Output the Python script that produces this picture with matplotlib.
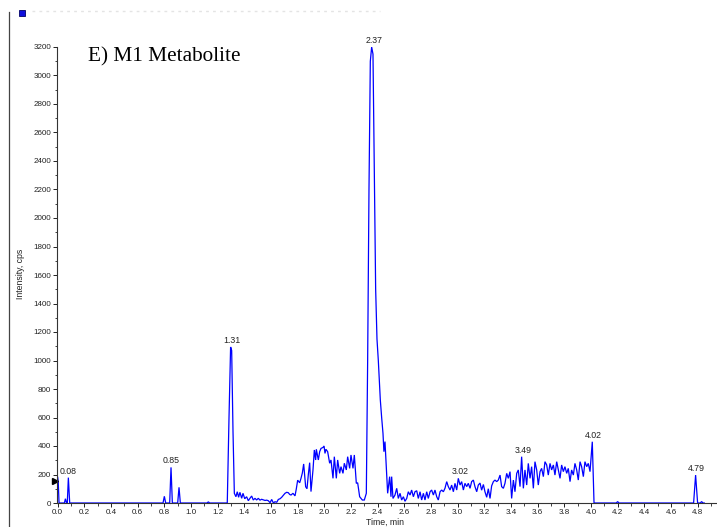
import matplotlib
matplotlib.use("Agg")
import matplotlib.pyplot as plt
from matplotlib.ticker import MultipleLocator
import numpy as np

# ---- data ----
time_min = [
    0.000, 0.004, 0.010, 0.050, 0.058, 0.066, 0.072, 0.080, 0.090,
    0.790, 0.800, 0.810, 0.840, 0.850, 0.860, 0.900, 0.910, 0.920,
    1.120, 1.130, 1.140, 1.272, 1.285, 1.297, 1.305, 1.315, 1.325,
    1.337, 1.347, 1.357, 1.367, 1.380, 1.390, 1.403, 1.417, 1.430, 1.442,
    1.455, 1.467, 1.480, 1.492, 1.505, 1.517, 1.530, 1.543, 1.555, 1.568,
    1.580, 1.593, 1.605, 1.618, 1.630, 1.643, 1.655, 1.668, 1.680, 1.693,
    1.705, 1.718, 1.730, 1.740, 1.750, 1.765, 1.780, 1.790, 1.800, 1.815,
    1.825, 1.835, 1.845, 1.860, 1.870, 1.880, 1.890, 1.900, 1.915, 1.925,
    1.935, 1.940, 1.955, 1.965, 1.975, 1.990, 1.998, 2.005, 2.012, 2.025,
    2.040, 2.050, 2.065, 2.075, 2.090, 2.100, 2.115, 2.125, 2.140, 2.150,
    2.165, 2.175, 2.190, 2.200, 2.215, 2.225, 2.240, 2.250, 2.265, 2.285,
    2.300, 2.315, 2.325, 2.335, 2.345, 2.355, 2.365, 2.375, 2.385, 2.395,
    2.405, 2.420, 2.430, 2.440, 2.447, 2.455, 2.462, 2.475, 2.490, 2.500,
    2.505, 2.515, 2.530, 2.543, 2.555, 2.568, 2.580, 2.593, 2.605, 2.618,
    2.630, 2.643, 2.655, 2.668, 2.680, 2.693, 2.705, 2.718, 2.730, 2.743,
    2.755, 2.768, 2.780, 2.793, 2.805, 2.818, 2.830, 2.843, 2.855, 2.868,
    2.880, 2.893, 2.905, 2.918, 2.930, 2.943, 2.955, 2.968, 2.980, 2.993,
    3.005, 3.018, 3.030, 3.043, 3.055, 3.068, 3.080, 3.093, 3.105, 3.118,
    3.130, 3.143, 3.155, 3.168, 3.180, 3.193, 3.205, 3.218, 3.230, 3.243,
    3.255, 3.268, 3.280, 3.293, 3.305, 3.318, 3.330, 3.343, 3.355, 3.368,
    3.380, 3.393, 3.405, 3.418, 3.430, 3.443, 3.455, 3.468, 3.480, 3.493,
    3.505, 3.518, 3.530, 3.543, 3.555, 3.568, 3.580, 3.593, 3.605, 3.618,
    3.630, 3.643, 3.655, 3.668, 3.680, 3.693, 3.705, 3.718, 3.730, 3.743,
    3.755, 3.768, 3.780, 3.793, 3.805, 3.818, 3.830, 3.843, 3.855, 3.868,
    3.880, 3.893, 3.905, 3.918, 3.930, 3.943, 3.955, 3.968, 3.980, 3.993,
    4.010, 4.023, 4.190, 4.200, 4.210, 4.770, 4.785, 4.800, 4.820, 4.830,
    4.840, 4.850,
]
intensity_cps = [
    180, 150, 0, 0, 30, 0, 0, 178, 0,
    0, 47, 0, 0, 250, 0, 0, 110, 0,
    0, 8, 0, 0, 600, 1095, 1070, 500, 68,
    44, 79, 40, 75, 33, 68, 30, 44, 16, 33,
    49, 21, 33, 21, 33, 20, 26, 22, 18, 20,
    16, 2, 25, 0, 9, 5, 25, 30, 40, 55,
    68, 75, 72, 60, 56, 68, 50, 100, 160, 142,
    173, 210, 274, 114, 100, 200, 283, 80, 232, 372,
    302, 377, 302, 360, 383, 390, 400, 348, 377, 360,
    279, 302, 173, 325, 173, 302, 208, 255, 208, 279,
    232, 325, 243, 337, 243, 337, 138, 142, 44, 21,
    21, 68, 1000, 2200, 3100, 3200, 3150, 2300, 1500, 1150,
    1000, 723, 600, 489, 360, 431, 302, 68, 185, 44,
    185, 32, 56, 103, 32, 68, 21, 44, 12, 32,
    79, 56, 91, 44, 79, 86, 32, 79, 21, 68,
    21, 79, 32, 79, 91, 56, 91, 44, 21, 79,
    91, 79, 103, 150, 115, 91, 126, 79, 138, 91,
    173, 126, 150, 91, 138, 115, 138, 103, 150, 161,
    115, 79, 126, 140, 90, 130, 79, 40, 100, 32,
    120, 150, 161, 150, 161, 196, 115, 103, 138, 208,
    173, 220, 32, 161, 79, 208, 232, 115, 325, 103,
    232, 126, 278, 173, 255, 103, 290, 232, 126, 220,
    243, 185, 290, 267, 196, 278, 232, 267, 196, 290,
    232, 173, 267, 220, 255, 208, 243, 150, 232, 196,
    278, 232, 161, 290, 255, 185, 290, 255, 278, 220,
    430, 0, 0, 10, 0, 0, 196, 0, 0, 10,
    0, 0,
]
peak_labels = ["0.08", "0.85", "1.31", "2.37", "3.02", "3.49", "4.02", "4.79"]
title_text = "E) M1 Metabolite"

# ---- figure ----
fig = plt.figure(figsize=(7.17, 5.27), dpi=100)
W, H = 717, 527
ax_left, ax_right, ax_bottom, ax_top = 56.5, 716, 503, 47
ax = fig.add_axes([ax_left / W, (H - ax_bottom) / H,
                   (ax_right - ax_left) / W, (ax_bottom - ax_top) / H])

t = np.array(time_min)
v = np.array(intensity_cps)
ax.plot(t, v, color="#0000FF", lw=0.9, solid_joinstyle="miter")

ax.set_xlim(-0.009, 4.938)
ax.set_ylim(0, 3200)

for s in ["top", "right"]:
    ax.spines[s].set_visible(False)
for s in ["left", "bottom"]:
    ax.spines[s].set_linewidth(0.8)
    ax.spines[s].set_color("#333333")

xt = np.round(np.arange(0, 4.81, 0.2), 1)
ax.set_xticks(xt)
ax.set_xticklabels([f"{x:.1f}" for x in xt])
ax.xaxis.set_minor_locator(MultipleLocator(0.1))
ax.yaxis.set_major_locator(MultipleLocator(200))
ax.yaxis.set_minor_locator(MultipleLocator(100))
ax.tick_params(axis="both", which="major", direction="out", length=3,
               width=0.7, labelsize=5.8, pad=1.0, colors="#222222")
ax.tick_params(axis="both", which="minor", direction="out", length=1.8,
               width=0.6, colors="#222222")
for lab in ax.get_xticklabels() + ax.get_yticklabels():
    lab.set_family("Liberation Sans")

# peak labels at local apex
for lab in peak_labels:
    tl = float(lab)
    m = (t >= tl - 0.03) & (t <= tl + 0.03)
    idx = np.where(m)[0][np.argmax(v[m])]
    ax.annotate(lab, xy=(tl, v[idx]), xytext=(0, 1.5), textcoords="offset points",
                ha="center", va="bottom", fontsize=6.3, family="Liberation Sans",
                color="#222222", annotation_clip=False)

# marker at start of trace
ax.plot([-0.02], [155], marker=">", color="black", ms=4, clip_on=False)

# title inside plot
fig.text(88 / W, (H - 57) / H, title_text, family="Liberation Serif",
         fontsize=15.3, ha="left", va="center", color="black")

# axis labels
fig.text(20.5 / W, (H - 274) / H, "Intensity, cps", rotation=90,
         ha="center", va="center", fontsize=6.3, family="Liberation Sans",
         color="#222222")
fig.text(385 / W, (H - 518) / H, "Time, min", ha="center", va="top",
         fontsize=6.3, family="Liberation Sans", color="#222222")

# page border line and header decoration
fig.add_artist(plt.Line2D([9 / W, 9 / W], [0, 1 - 12 / H], color="#444444",
                          lw=0.9, transform=fig.transFigure))
fig.add_artist(plt.Rectangle((19 / W, 1 - 16 / H), 6.5 / W, 6 / H,
                             facecolor="#1010dd", edgecolor="#000066", lw=0.6,
                             transform=fig.transFigure))
fig.add_artist(plt.Line2D([32 / W, 380 / W], [1 - 11 / H, 1 - 11 / H],
                          color="#e4e4e4", lw=1.0, ls=(0, (2, 3)),
                          transform=fig.transFigure))

fig.savefig("out.png", dpi=100)
